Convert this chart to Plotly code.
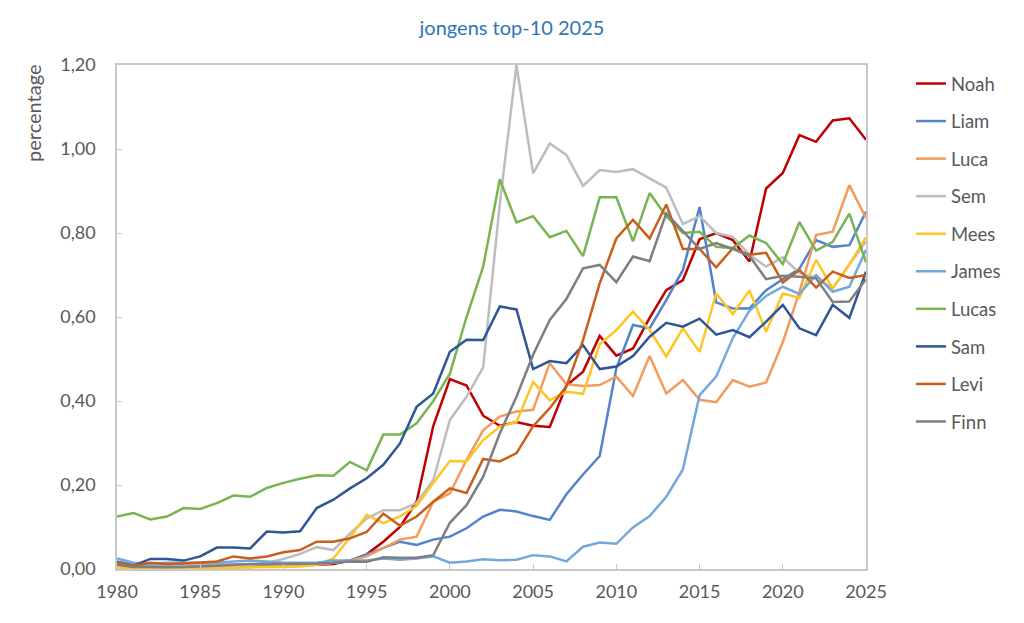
import plotly.graph_objects as go

years = list(range(1980, 2026))

names = ["Noah", "Liam", "Luca", "Sem", "Mees", "James", "Lucas", "Sam", "Levi", "Finn"]

noah = [0.005,0.004,0.004,0.003,0.003,0.004,0.004,0.005,0.005,0.006,0.007,0.008,0.010,0.012,
        0.020,0.035,0.065,0.100,0.160,0.340,
        0.452,0.437,0.365,0.341,0.350,0.341,0.338,0.437,0.470,0.555,
        0.508,0.525,0.598,0.664,0.688,0.785,0.800,0.783,0.732,0.906,
        0.943,1.033,1.017,1.068,1.073,1.022]
liam = [0.018,0.010,0.008,0.008,0.008,0.008,0.010,0.010,0.010,0.010,0.012,0.012,0.013,0.015,
        0.020,0.035,0.050,0.065,0.057,0.070,
        0.077,0.097,0.125,0.141,0.137,0.126,0.117,0.178,0.225,0.269,
        0.478,0.581,0.573,0.640,0.712,0.862,0.635,0.620,0.620,0.664,
        0.690,0.715,0.783,0.767,0.771,0.851]
luca = [0.004,0.004,0.003,0.003,0.003,0.004,0.004,0.005,0.005,0.006,0.007,0.008,0.010,0.015,
        0.020,0.030,0.050,0.070,0.077,0.160,
        0.180,0.260,0.330,0.363,0.375,0.379,0.490,0.440,0.436,0.438,
        0.458,0.412,0.507,0.418,0.450,0.403,0.397,0.450,0.434,0.444,
        0.540,0.660,0.795,0.803,0.914,0.835]
sem = [0.005,0.005,0.005,0.006,0.007,0.008,0.008,0.010,0.010,0.015,0.024,0.036,0.052,0.045,
       0.085,0.120,0.140,0.140,0.157,0.212,
       0.355,0.410,0.480,0.870,1.200,0.942,1.013,0.986,0.912,0.950,
       0.945,0.952,0.930,0.908,0.821,0.840,0.800,0.791,0.748,0.720,
       0.742,0.705,0.694,0.668,0.725,0.780]
mees = [0.002,0.002,0.002,0.002,0.002,0.003,0.003,0.003,0.004,0.004,0.005,0.006,0.010,0.025,
        0.075,0.129,0.109,0.125,0.150,0.205,
        0.257,0.256,0.307,0.339,0.350,0.445,0.402,0.422,0.417,0.535,
        0.569,0.613,0.569,0.506,0.573,0.517,0.656,0.607,0.663,0.565,
        0.656,0.646,0.736,0.668,0.725,0.790]
james = [0.025,0.015,0.012,0.015,0.015,0.015,0.015,0.018,0.020,0.018,0.015,0.015,0.015,0.020,
         0.020,0.020,0.025,0.022,0.025,0.030,
         0.015,0.018,0.023,0.021,0.022,0.033,0.030,0.018,0.053,0.063,
         0.060,0.099,0.126,0.172,0.237,0.414,0.458,0.550,0.615,0.650,
         0.672,0.655,0.700,0.660,0.672,0.760]
lucas = [0.125,0.133,0.118,0.125,0.145,0.143,0.157,0.175,0.172,0.193,0.205,0.215,0.223,0.222,
         0.255,0.235,0.320,0.320,0.347,0.400,
         0.465,0.600,0.720,0.928,0.825,0.840,0.790,0.805,0.745,0.885,
         0.885,0.780,0.895,0.840,0.800,0.803,0.767,0.764,0.794,0.776,
         0.726,0.826,0.758,0.779,0.846,0.730]
sam = [0.015,0.008,0.024,0.024,0.020,0.030,0.051,0.051,0.049,0.089,0.087,0.090,0.145,0.165,
       0.192,0.216,0.248,0.299,0.386,0.418,
       0.517,0.546,0.545,0.625,0.618,0.476,0.495,0.490,0.533,0.476,
       0.482,0.507,0.553,0.586,0.577,0.596,0.558,0.569,0.552,0.589,
       0.629,0.573,0.557,0.629,0.598,0.708]
levi = [0.015,0.008,0.015,0.012,0.013,0.015,0.018,0.030,0.025,0.030,0.040,0.045,0.065,0.065,
        0.073,0.088,0.132,0.103,0.125,0.160,
        0.192,0.181,0.262,0.256,0.276,0.340,0.383,0.435,0.545,0.680,
        0.787,0.831,0.787,0.868,0.762,0.762,0.718,0.764,0.748,0.753,
        0.682,0.712,0.670,0.708,0.693,0.700]
finn = [0.010,0.005,0.005,0.004,0.005,0.006,0.008,0.010,0.012,0.012,0.012,0.012,0.013,0.015,
        0.018,0.017,0.028,0.027,0.027,0.033,
        0.110,0.152,0.220,0.323,0.410,0.510,0.593,0.643,0.716,0.724,
        0.683,0.744,0.733,0.847,0.805,0.762,0.776,0.762,0.745,0.690,
        0.698,0.696,0.692,0.636,0.637,0.690]

series = [noah, liam, luca, sem, mees, james, lucas, sam, levi, finn]
colors = ["#C00000", "#5283CB", "#F29B5C", "#BDBDBD", "#FFC526",
          "#72A9DD", "#78B450", "#2F5597", "#C95F1A", "#7F7F7F"]

FONT = "Lato"
TXT = "#595959"

fig = go.Figure()
for name, vals, col in zip(names, series, colors):
    fig.add_trace(go.Scatter(x=years, y=vals, mode="lines", name=name,
                             legendgroup=name,
                             line=dict(color=col, width=2.5)))

fig.update_layout(
    width=1024, height=623,
    paper_bgcolor="white", plot_bgcolor="white",
    separators=", ",
    margin=dict(l=109, r=166, t=57, b=62),
    font=dict(family=FONT, color=TXT, size=15),
    title=dict(text="jongens top-10 2025", x=(512 - 8) / 1024, xanchor="center",
               y=1 - 20 / 623, yanchor="middle", yref="container",
               font=dict(family=FONT, size=20, color="#2E75B6")),
    showlegend=True,
    legend=dict(x=1.060, y=1.0, xanchor="left", yanchor="top",
                font=dict(family=FONT, size=18.5, color=TXT),
                tracegroupgap=10.5, bgcolor="rgba(0,0,0,0)"),
    xaxis=dict(range=[1980, 2025], tickmode="linear", tick0=1980, dtick=5,
               tickformat="d", showgrid=False, zeroline=False,
               showline=True, mirror=True, linecolor="#C8C8C8", linewidth=1.5,
               ticks="inside", ticklen=5, tickcolor="#C8C8C8",
               ticklabelstandoff=6,
               tickfont=dict(family=FONT, size=18, color=TXT)),
    yaxis=dict(range=[0, 1.2], tickmode="linear", tick0=0, dtick=0.2,
               tickformat=".2f", showgrid=False, zeroline=False,
               showline=True, mirror=True, linecolor="#C8C8C8", linewidth=1.5,
               ticks="inside", ticklen=5, tickcolor="#C8C8C8",
               ticklabelstandoff=16,
               tickfont=dict(family=FONT, size=18, color=TXT)),
    annotations=[dict(text="percentage", textangle=-90, xref="paper", yref="paper",
                      x=(33 - 117) / 749, y=(569 - 113) / 504,
                      xanchor="center", yanchor="middle", showarrow=False,
                      font=dict(family=FONT, size=20, color=TXT))],
)

fig.write_html("out.html")
